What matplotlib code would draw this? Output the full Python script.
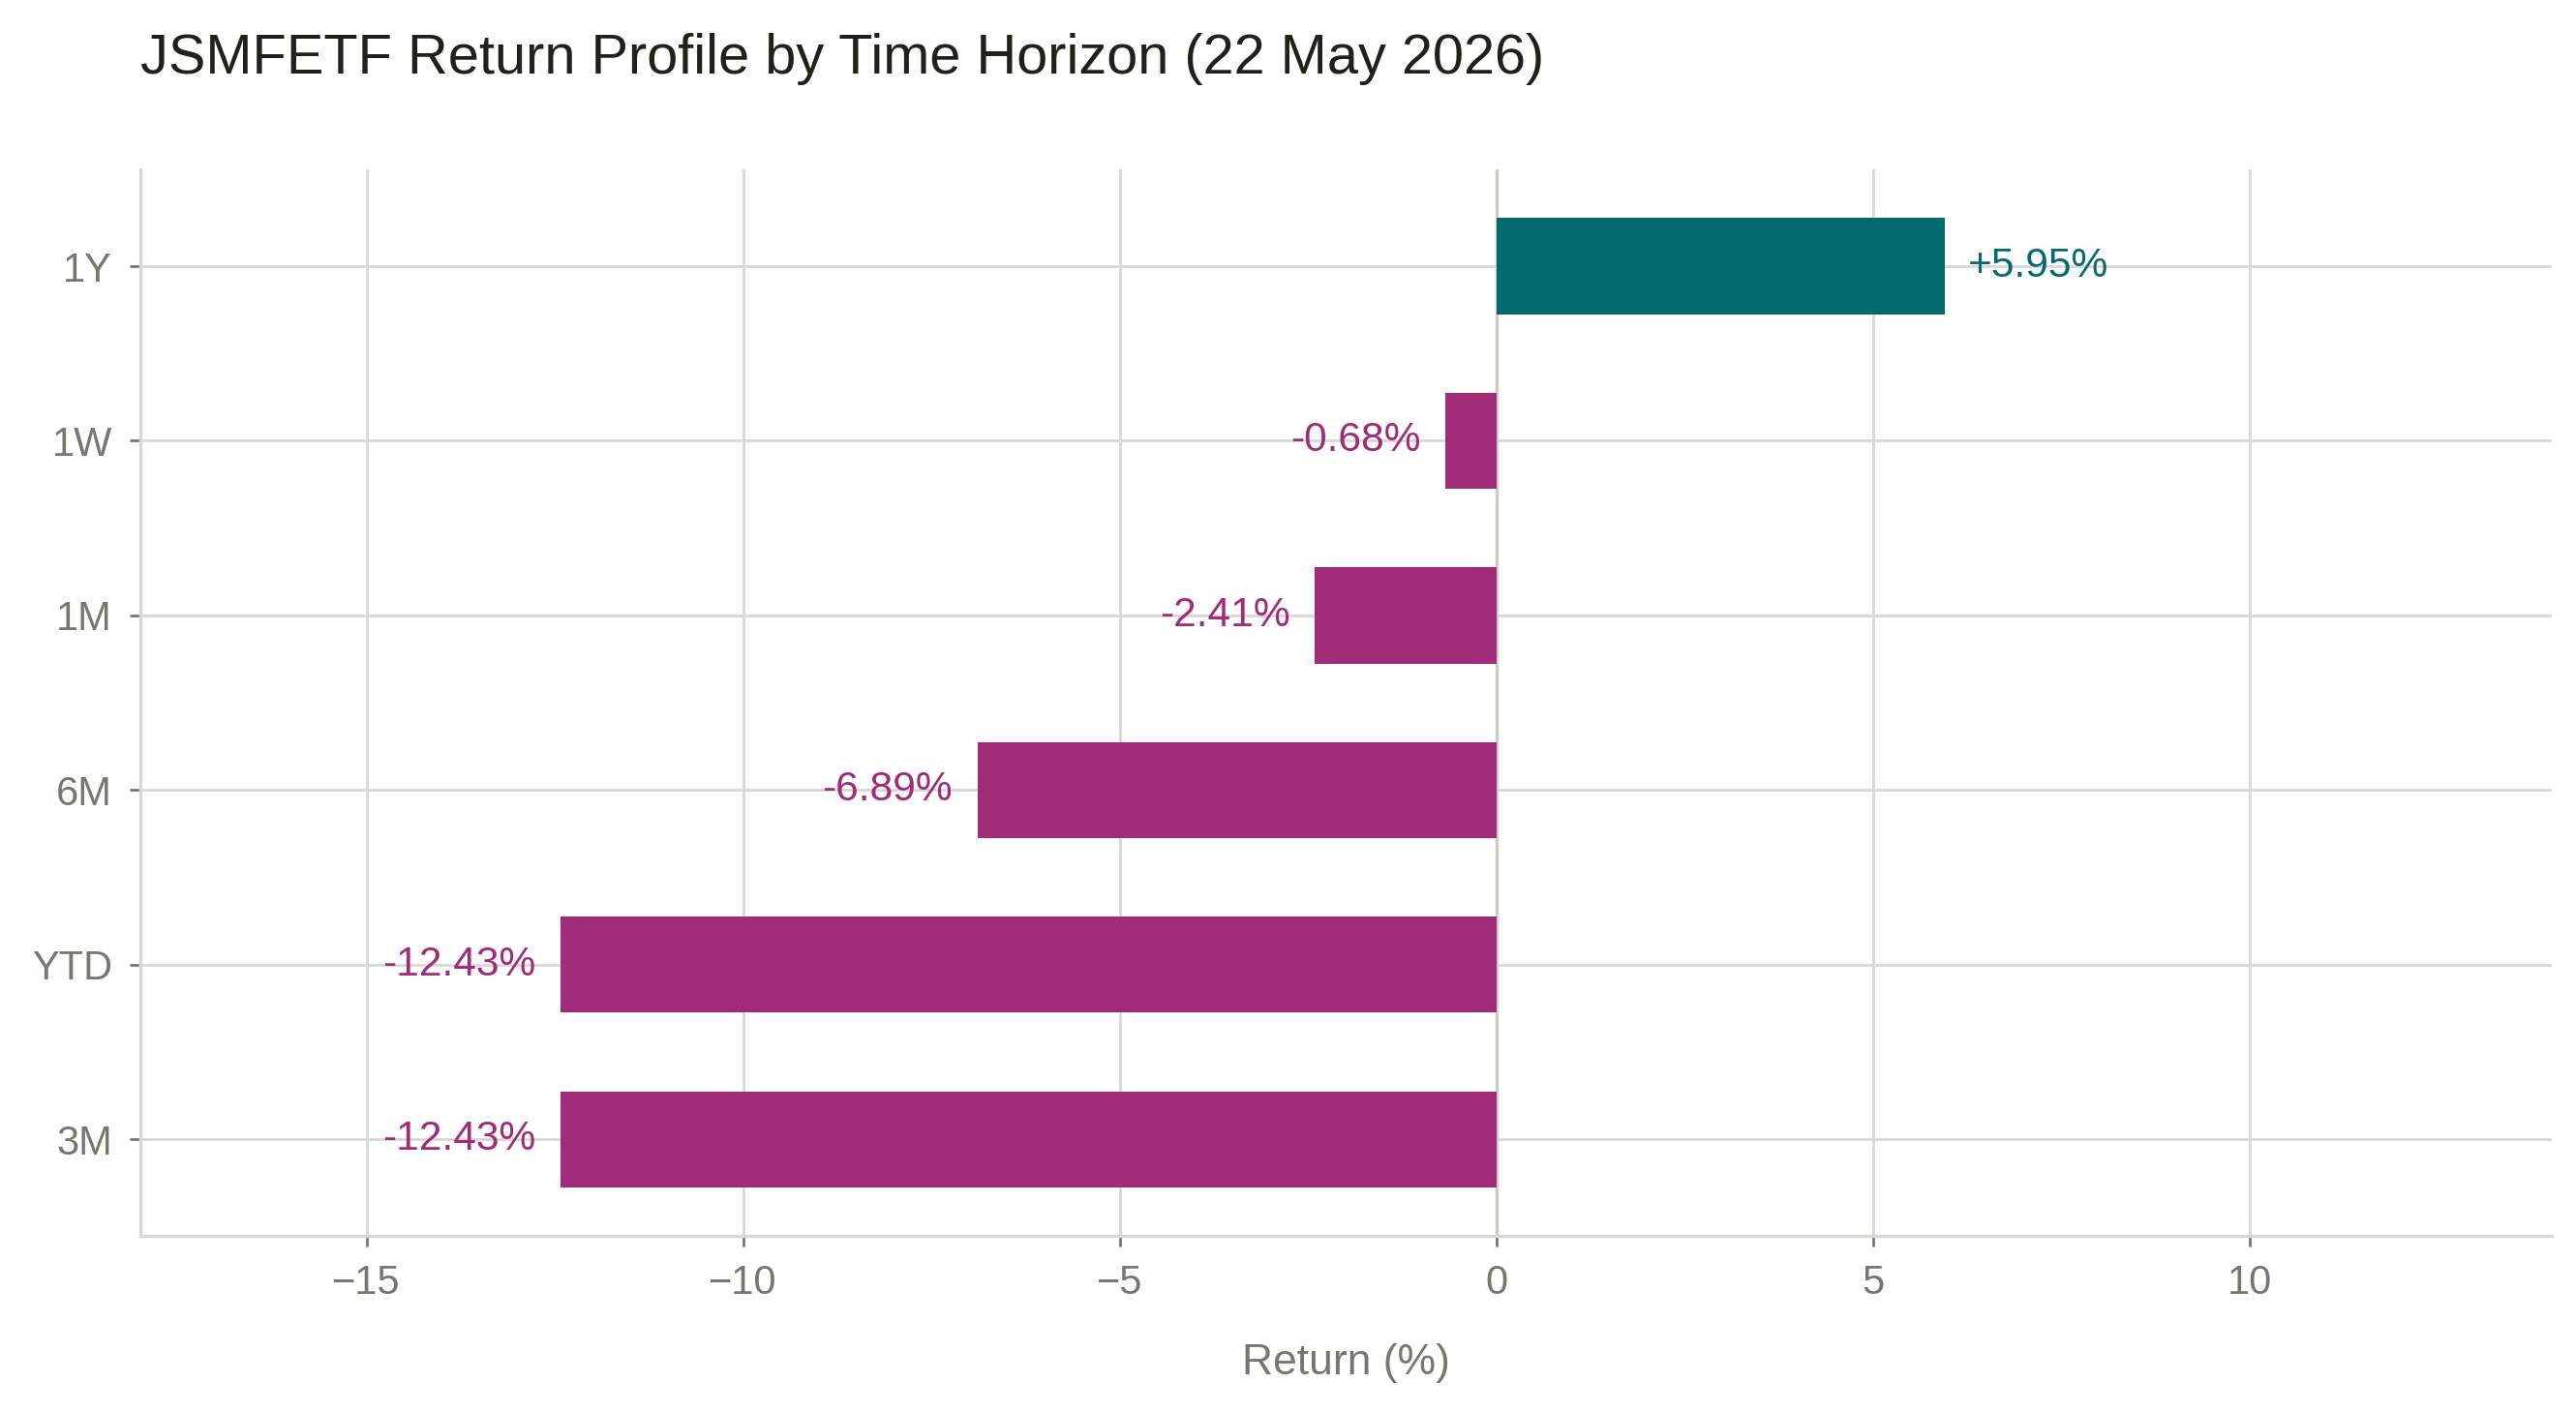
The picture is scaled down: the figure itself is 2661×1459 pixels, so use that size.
import matplotlib
matplotlib.use("Agg")
import matplotlib.pyplot as plt

# data (bottom to top)
horizons = ["3M", "YTD", "6M", "1M", "1W", "1Y"]
returns = [-12.43, -12.43, -6.89, -2.41, -0.68, 5.95]
xticks = [-15, -10, -5, 0, 5, 10]

pos_color = "#036A6E"
neg_color = "#A02B78"
grid_color = "#DAD8D2"
text_grey = "#77776F"

plt.rcParams['font.family'] = ['Liberation Sans', 'DejaVu Sans']

fig = plt.figure(figsize=(2661 / 200, 1459 / 200), dpi=200)
ax = fig.add_axes([0.0545, 0.1248, 0.936, 0.755])

colors = [pos_color if r >= 0 else neg_color for r in returns]
ax.barh(horizons, returns, height=0.55, color=colors, zorder=3)

# value labels next to each bar end
for i, r in enumerate(returns):
    if r >= 0:
        ax.text(r + 0.3, i, f"+{r:.2f}%", ha="left", va="center",
                fontsize=15.3, color=pos_color, zorder=4)
    else:
        ax.text(r - 0.33, i, f"-{abs(r):.2f}%", ha="right", va="center",
                fontsize=15.3, color=neg_color, zorder=4)

ax.set_xlim(-18, 14)
ax.set_xticks(xticks)
ax.axvline(0, color="#CFCCC5", lw=1.2, zorder=2)

ax.grid(True, color=grid_color, lw=1.0, zorder=0)
ax.set_axisbelow(True)
for side in ["top", "right"]:
    ax.spines[side].set_visible(False)
for side in ["left", "bottom"]:
    ax.spines[side].set_color(grid_color)
    ax.spines[side].set_linewidth(1.2)

ax.tick_params(axis="both", colors=text_grey, labelsize=15, length=4, width=1)
ax.tick_params(axis="x", pad=6.5)
ax.tick_params(axis="y", pad=6.5)
ax.set_xlabel("Return (%)", fontsize=16, color=text_grey, labelpad=15)

fig.text(0.0545, 0.958, "JSMFETF Return Profile by Time Horizon (22 May 2026)",
         fontsize=20.8, color="#22201A", ha="left", va="center")

fig.savefig("out.png", dpi=200)
